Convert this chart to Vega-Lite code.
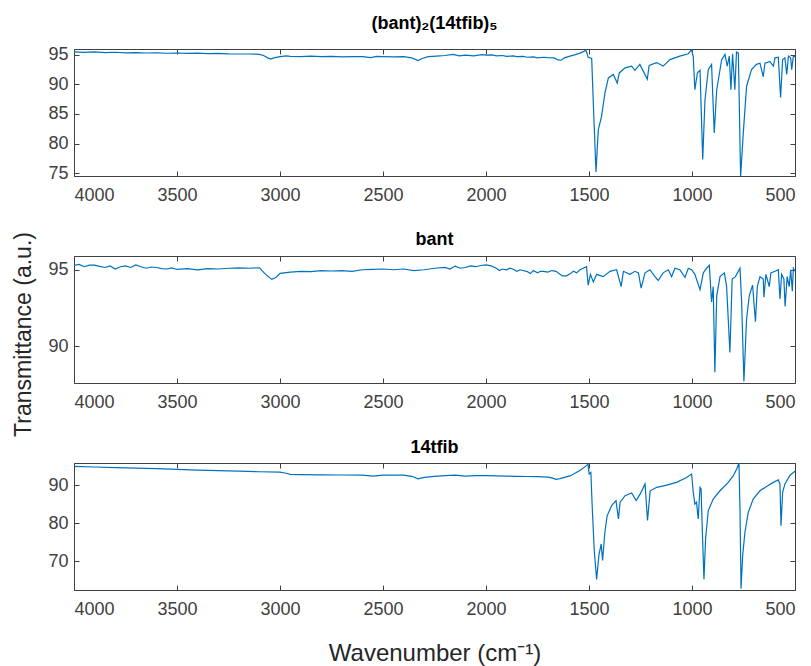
{
  "$schema": "https://vega.github.io/schema/vega-lite/v6.json",
  "padding": {"left": 12, "top": 14, "right": 10, "bottom": 0},
  "background": "white",
  "config": {
    "view": {"stroke": "#404040", "strokeWidth": 1},
    "axis": {"domain": false, "grid": false, "labelFont": "Liberation Sans", "labelFontSize": 18, "labelColor": "#404040", "ticks": true, "tickColor": "#404040", "tickWidth": 1, "tickSize": -5, "format": "d", "titleFont": "Liberation Sans", "titleFontWeight": "normal", "titleColor": "#262626"},
    "axisX": {"labelPadding": 15},
    "axisY": {"labelPadding": 11},
    "title": {"font": "Liberation Sans", "fontSize": 18, "fontWeight": "bold", "color": "#000000", "frame": "group"}
  },
  "datasets": {
    "p1": [
      {"wn":4000,"t":95.5},{"wn":3950,"t":95.42},{"wn":3900,"t":95.5},{"wn":3850,"t":95.38},{"wn":3800,"t":95.45},{"wn":3750,"t":95.35},{"wn":3700,"t":95.4},{"wn":3650,"t":95.32},{"wn":3600,"t":95.36},{"wn":3550,"t":95.28},{"wn":3500,"t":95.32},{"wn":3450,"t":95.25},{"wn":3400,"t":95.3},{"wn":3350,"t":95.22},{"wn":3300,"t":95.25},{"wn":3250,"t":95.18},{"wn":3200,"t":95.15},{"wn":3150,"t":95.15},{"wn":3100,"t":95.1},{"wn":3080,"t":94.9},{"wn":3060,"t":94.5},{"wn":3045,"t":94.3},{"wn":3030,"t":94.5},{"wn":3000,"t":94.7},{"wn":2970,"t":94.85},{"wn":2950,"t":94.75},{"wn":2900,"t":94.7},{"wn":2850,"t":94.78},{"wn":2800,"t":94.7},{"wn":2750,"t":94.75},{"wn":2700,"t":94.68},{"wn":2650,"t":94.72},{"wn":2600,"t":94.7},{"wn":2560,"t":94.55},{"wn":2530,"t":94.75},{"wn":2500,"t":94.72},{"wn":2450,"t":94.68},{"wn":2400,"t":94.72},{"wn":2360,"t":94.5},{"wn":2330,"t":94.05},{"wn":2310,"t":94.4},{"wn":2280,"t":94.7},{"wn":2240,"t":94.8},{"wn":2200,"t":94.9},{"wn":2160,"t":95.1},{"wn":2130,"t":94.85},{"wn":2100,"t":94.95},{"wn":2060,"t":94.85},{"wn":2020,"t":95.05},{"wn":2000,"t":94.95},{"wn":1970,"t":95.0},{"wn":1950,"t":94.85},{"wn":1920,"t":94.9},{"wn":1900,"t":94.75},{"wn":1870,"t":94.85},{"wn":1850,"t":94.7},{"wn":1820,"t":94.75},{"wn":1800,"t":94.6},{"wn":1770,"t":94.65},{"wn":1750,"t":94.5},{"wn":1720,"t":94.6},{"wn":1700,"t":94.55},{"wn":1670,"t":94.5},{"wn":1650,"t":94.15},{"wn":1635,"t":94.1},{"wn":1620,"t":94.5},{"wn":1592,"t":94.8},{"wn":1570,"t":95.0},{"wn":1544,"t":95.3},{"wn":1525,"t":95.6},{"wn":1515,"t":95.8},{"wn":1504,"t":94.6},{"wn":1487,"t":94.4},{"wn":1479,"t":86.8},{"wn":1466,"t":75.2},{"wn":1455,"t":82.3},{"wn":1439,"t":84.6},{"wn":1423,"t":88.5},{"wn":1406,"t":91.1},{"wn":1382,"t":91.7},{"wn":1363,"t":90.25},{"wn":1353,"t":91.95},{"wn":1325,"t":92.8},{"wn":1293,"t":93.1},{"wn":1277,"t":92.4},{"wn":1253,"t":93.4},{"wn":1217,"t":90.9},{"wn":1208,"t":93.2},{"wn":1172,"t":93.7},{"wn":1140,"t":93.1},{"wn":1107,"t":94.2},{"wn":1059,"t":94.8},{"wn":1018,"t":95.2},{"wn":1002,"t":95.9},{"wn":994,"t":94.7},{"wn":986,"t":89.1},{"wn":974,"t":91.95},{"wn":961,"t":92.4},{"wn":948,"t":77.3},{"wn":937,"t":87.4},{"wn":921,"t":92.5},{"wn":905,"t":93.4},{"wn":892,"t":81.8},{"wn":880,"t":89.1},{"wn":856,"t":94.2},{"wn":840,"t":95.1},{"wn":829,"t":93.1},{"wn":819,"t":94.8},{"wn":811,"t":89.1},{"wn":803,"t":95.2},{"wn":792,"t":89.1},{"wn":784,"t":95.5},{"wn":775,"t":95.3},{"wn":764,"t":74.4},{"wn":751,"t":81.8},{"wn":735,"t":89.7},{"wn":711,"t":92.5},{"wn":687,"t":93.4},{"wn":670,"t":93.6},{"wn":654,"t":91.3},{"wn":646,"t":93.6},{"wn":622,"t":93.9},{"wn":605,"t":93.1},{"wn":597,"t":94.5},{"wn":581,"t":94.6},{"wn":570,"t":87.8},{"wn":560,"t":94.2},{"wn":549,"t":94.5},{"wn":540,"t":91.7},{"wn":532,"t":94.8},{"wn":521,"t":94.5},{"wn":516,"t":92.5},{"wn":508,"t":94.8},{"wn":500,"t":94.7}
    ],
    "p2": [
      {"wn":4000,"t":95.28},{"wn":3975,"t":95.35},{"wn":3950,"t":95.2},{"wn":3925,"t":95.3},{"wn":3900,"t":95.3},{"wn":3875,"t":95.22},{"wn":3850,"t":95.15},{"wn":3825,"t":95.25},{"wn":3800,"t":95.05},{"wn":3775,"t":95.2},{"wn":3750,"t":95.25},{"wn":3725,"t":95.15},{"wn":3700,"t":95.32},{"wn":3675,"t":95.2},{"wn":3650,"t":95.1},{"wn":3625,"t":95.18},{"wn":3600,"t":95.15},{"wn":3575,"t":95.08},{"wn":3550,"t":95.05},{"wn":3525,"t":95.12},{"wn":3500,"t":95.02},{"wn":3450,"t":95.08},{"wn":3400,"t":95.0},{"wn":3350,"t":95.08},{"wn":3300,"t":95.05},{"wn":3250,"t":95.1},{"wn":3200,"t":95.12},{"wn":3150,"t":95.1},{"wn":3100,"t":95.13},{"wn":3070,"t":94.7},{"wn":3040,"t":94.37},{"wn":3020,"t":94.5},{"wn":3000,"t":94.76},{"wn":2950,"t":94.85},{"wn":2900,"t":94.9},{"wn":2850,"t":94.88},{"wn":2800,"t":94.95},{"wn":2750,"t":94.92},{"wn":2700,"t":94.95},{"wn":2650,"t":94.9},{"wn":2600,"t":95.0},{"wn":2550,"t":95.02},{"wn":2500,"t":95.05},{"wn":2450,"t":95.0},{"wn":2400,"t":95.05},{"wn":2350,"t":94.95},{"wn":2300,"t":95.0},{"wn":2250,"t":95.1},{"wn":2200,"t":95.15},{"wn":2175,"t":95.05},{"wn":2150,"t":95.24},{"wn":2125,"t":95.1},{"wn":2100,"t":95.15},{"wn":2075,"t":95.25},{"wn":2050,"t":95.2},{"wn":2025,"t":95.28},{"wn":2000,"t":95.32},{"wn":1975,"t":95.25},{"wn":1950,"t":95.1},{"wn":1935,"t":94.95},{"wn":1920,"t":95.05},{"wn":1900,"t":95.0},{"wn":1885,"t":95.1},{"wn":1870,"t":95.05},{"wn":1850,"t":94.9},{"wn":1835,"t":95.0},{"wn":1820,"t":94.95},{"wn":1800,"t":94.88},{"wn":1785,"t":94.75},{"wn":1770,"t":94.95},{"wn":1750,"t":94.8},{"wn":1735,"t":94.9},{"wn":1720,"t":94.9},{"wn":1700,"t":94.85},{"wn":1680,"t":94.95},{"wn":1660,"t":94.9},{"wn":1630,"t":94.6},{"wn":1609,"t":94.6},{"wn":1590,"t":94.75},{"wn":1576,"t":94.9},{"wn":1560,"t":94.8},{"wn":1544,"t":95.0},{"wn":1512,"t":95.2},{"wn":1504,"t":94.0},{"wn":1493,"t":94.7},{"wn":1479,"t":94.2},{"wn":1463,"t":94.7},{"wn":1431,"t":94.55},{"wn":1398,"t":94.9},{"wn":1366,"t":95.0},{"wn":1344,"t":93.9},{"wn":1333,"t":94.9},{"wn":1301,"t":94.7},{"wn":1277,"t":94.9},{"wn":1260,"t":94.8},{"wn":1247,"t":93.8},{"wn":1228,"t":94.8},{"wn":1204,"t":95.0},{"wn":1180,"t":94.55},{"wn":1164,"t":94.3},{"wn":1140,"t":94.8},{"wn":1115,"t":95.0},{"wn":1099,"t":94.55},{"wn":1083,"t":95.1},{"wn":1059,"t":95.0},{"wn":1034,"t":94.5},{"wn":1018,"t":95.1},{"wn":1002,"t":95.0},{"wn":986,"t":94.7},{"wn":961,"t":93.7},{"wn":945,"t":94.8},{"wn":929,"t":95.1},{"wn":916,"t":95.3},{"wn":905,"t":92.9},{"wn":897,"t":93.9},{"wn":889,"t":88.3},{"wn":880,"t":93.3},{"wn":864,"t":94.55},{"wn":843,"t":94.8},{"wn":832,"t":93.9},{"wn":816,"t":89.6},{"wn":805,"t":94.4},{"wn":789,"t":94.55},{"wn":767,"t":95.1},{"wn":759,"t":92.9},{"wn":748,"t":87.7},{"wn":735,"t":91.8},{"wn":722,"t":93.3},{"wn":706,"t":94.0},{"wn":692,"t":91.6},{"wn":683,"t":93.9},{"wn":670,"t":94.55},{"wn":654,"t":94.4},{"wn":651,"t":93.2},{"wn":641,"t":94.7},{"wn":625,"t":93.9},{"wn":617,"t":94.8},{"wn":597,"t":94.9},{"wn":581,"t":95.0},{"wn":573,"t":93.1},{"wn":565,"t":94.7},{"wn":554,"t":94.4},{"wn":548,"t":92.6},{"wn":538,"t":94.55},{"wn":528,"t":93.9},{"wn":521,"t":95.0},{"wn":513,"t":93.6},{"wn":508,"t":95.1},{"wn":500,"t":94.9}
    ],
    "p3": [
      {"wn":4000,"t":94.9},{"wn":3900,"t":94.75},{"wn":3800,"t":94.6},{"wn":3700,"t":94.45},{"wn":3600,"t":94.3},{"wn":3500,"t":94.1},{"wn":3400,"t":93.95},{"wn":3300,"t":93.8},{"wn":3200,"t":93.65},{"wn":3100,"t":93.5},{"wn":3000,"t":93.4},{"wn":2970,"t":93.1},{"wn":2950,"t":92.8},{"wn":2900,"t":92.75},{"wn":2800,"t":92.7},{"wn":2700,"t":92.65},{"wn":2600,"t":92.6},{"wn":2550,"t":92.35},{"wn":2500,"t":92.6},{"wn":2450,"t":92.62},{"wn":2400,"t":92.6},{"wn":2360,"t":92.3},{"wn":2330,"t":91.65},{"wn":2300,"t":92.0},{"wn":2250,"t":92.3},{"wn":2200,"t":92.5},{"wn":2150,"t":92.6},{"wn":2100,"t":92.35},{"wn":2050,"t":92.5},{"wn":2000,"t":92.5},{"wn":1950,"t":92.4},{"wn":1900,"t":92.35},{"wn":1850,"t":92.3},{"wn":1800,"t":92.25},{"wn":1750,"t":92.2},{"wn":1700,"t":92.1},{"wn":1680,"t":91.9},{"wn":1660,"t":91.5},{"wn":1641,"t":91.7},{"wn":1592,"t":92.4},{"wn":1544,"t":93.8},{"wn":1512,"t":95.1},{"wn":1505,"t":95.5},{"wn":1499,"t":92.9},{"wn":1491,"t":93.3},{"wn":1484,"t":83.7},{"wn":1474,"t":72.4},{"wn":1463,"t":65.2},{"wn":1452,"t":71.5},{"wn":1441,"t":74.5},{"wn":1434,"t":70.2},{"wn":1423,"t":77.6},{"wn":1412,"t":81.9},{"wn":1390,"t":84.6},{"wn":1369,"t":85.9},{"wn":1357,"t":81.1},{"wn":1349,"t":85.5},{"wn":1325,"t":87.2},{"wn":1293,"t":87.9},{"wn":1271,"t":85.9},{"wn":1252,"t":87.6},{"wn":1228,"t":90.3},{"wn":1216,"t":80.7},{"wn":1203,"t":88.5},{"wn":1171,"t":89.4},{"wn":1123,"t":90.0},{"wn":1075,"t":90.7},{"wn":1026,"t":92.0},{"wn":1002,"t":92.9},{"wn":994,"t":88.1},{"wn":986,"t":85.0},{"wn":978,"t":85.5},{"wn":970,"t":81.1},{"wn":961,"t":89.4},{"wn":956,"t":89.0},{"wn":948,"t":75.0},{"wn":942,"t":65.2},{"wn":934,"t":75.9},{"wn":921,"t":83.3},{"wn":897,"t":86.3},{"wn":864,"t":88.5},{"wn":824,"t":90.7},{"wn":800,"t":92.4},{"wn":783,"t":94.2},{"wn":772,"t":95.8},{"wn":767,"t":83.7},{"wn":762,"t":62.75},{"wn":754,"t":71.5},{"wn":743,"t":77.6},{"wn":727,"t":82.8},{"wn":703,"t":86.3},{"wn":670,"t":88.5},{"wn":638,"t":89.65},{"wn":605,"t":90.7},{"wn":581,"t":91.4},{"wn":573,"t":90.3},{"wn":568,"t":79.3},{"wn":560,"t":88.1},{"wn":549,"t":90.3},{"wn":524,"t":92.6},{"wn":508,"t":93.3},{"wn":500,"t":93.6}
    ]
  },
  "spacing": 80,
  "bounds": "flush",
  "vconcat": [
    {
      "width": 721, "height": 127,
      "title": {"text": "(bant)₂(14tfib)₅", "offset": 13},
      "data": {"name": "p1"},
      "layer": [
        {"mark": {"type": "line", "color": "#0072BD", "strokeWidth": 1.2, "clip": true},
         "encoding": {
           "x": {"field": "wn", "type": "quantitative", "scale": {"domain": [500, 4000], "reverse": true, "nice": false, "zero": false}, "axis": {"values": [4000,3500,3000,2500,2000,1500,1000,500], "title": null, "orient": "bottom"}},
           "y": {"field": "t", "type": "quantitative", "scale": {"domain": [74.5, 96], "nice": false, "zero": false}, "axis": {"values": [75,80,85,90,95], "title": "Transmittance (a.u.)", "titleFontSize": 23, "titlePadding": 12, "titleY": 285, "orient": "left"}}
         }},
        {"mark": {"type": "line", "opacity": 0},
         "encoding": {
           "x": {"field": "wn", "type": "quantitative", "axis": {"values": [4000,3500,3000,2500,2000,1500,1000,500], "title": null, "labels": false, "orient": "top"}},
           "y": {"field": "t", "type": "quantitative", "axis": {"values": [75,80,85,90,95], "title": null, "labels": false, "orient": "right"}}
         }}
      ],
      "resolve": {"axis": {"x": "independent", "y": "independent"}}
    },
    {
      "width": 721, "height": 127,
      "title": {"text": "bant", "offset": 7},
      "data": {"name": "p2"},
      "layer": [
        {"mark": {"type": "line", "color": "#0072BD", "strokeWidth": 1.2, "clip": true},
         "encoding": {
           "x": {"field": "wn", "type": "quantitative", "scale": {"domain": [500, 4000], "reverse": true, "nice": false, "zero": false}, "axis": {"values": [4000,3500,3000,2500,2000,1500,1000,500], "title": null, "orient": "bottom"}},
           "y": {"field": "t", "type": "quantitative", "scale": {"domain": [87.6, 95.9], "nice": false, "zero": false}, "axis": {"values": [90,95], "title": null, "orient": "left"}}
         }},
        {"mark": {"type": "line", "opacity": 0},
         "encoding": {
           "x": {"field": "wn", "type": "quantitative", "axis": {"values": [4000,3500,3000,2500,2000,1500,1000,500], "title": null, "labels": false, "orient": "top"}},
           "y": {"field": "t", "type": "quantitative", "axis": {"values": [90,95], "title": null, "labels": false, "orient": "right"}}
         }}
      ],
      "resolve": {"axis": {"x": "independent", "y": "independent"}}
    },
    {
      "width": 721, "height": 127,
      "title": {"text": "14tfib", "offset": 6},
      "data": {"name": "p3"},
      "layer": [
        {"mark": {"type": "line", "color": "#0072BD", "strokeWidth": 1.2, "clip": true},
         "encoding": {
           "x": {"field": "wn", "type": "quantitative", "scale": {"domain": [500, 4000], "reverse": true, "nice": false, "zero": false}, "axis": {"values": [4000,3500,3000,2500,2000,1500,1000,500], "title": "Wavenumber (cm⁻¹)", "titleFontSize": 24, "titlePadding": 23, "orient": "bottom"}},
           "y": {"field": "t", "type": "quantitative", "scale": {"domain": [62.4, 95.8], "nice": false, "zero": false}, "axis": {"values": [70,80,90], "title": null, "orient": "left"}}
         }},
        {"mark": {"type": "line", "opacity": 0},
         "encoding": {
           "x": {"field": "wn", "type": "quantitative", "axis": {"values": [4000,3500,3000,2500,2000,1500,1000,500], "title": null, "labels": false, "orient": "top"}},
           "y": {"field": "t", "type": "quantitative", "axis": {"values": [70,80,90], "title": null, "labels": false, "orient": "right"}}
         }}
      ],
      "resolve": {"axis": {"x": "independent", "y": "independent"}}
    }
  ]
}
